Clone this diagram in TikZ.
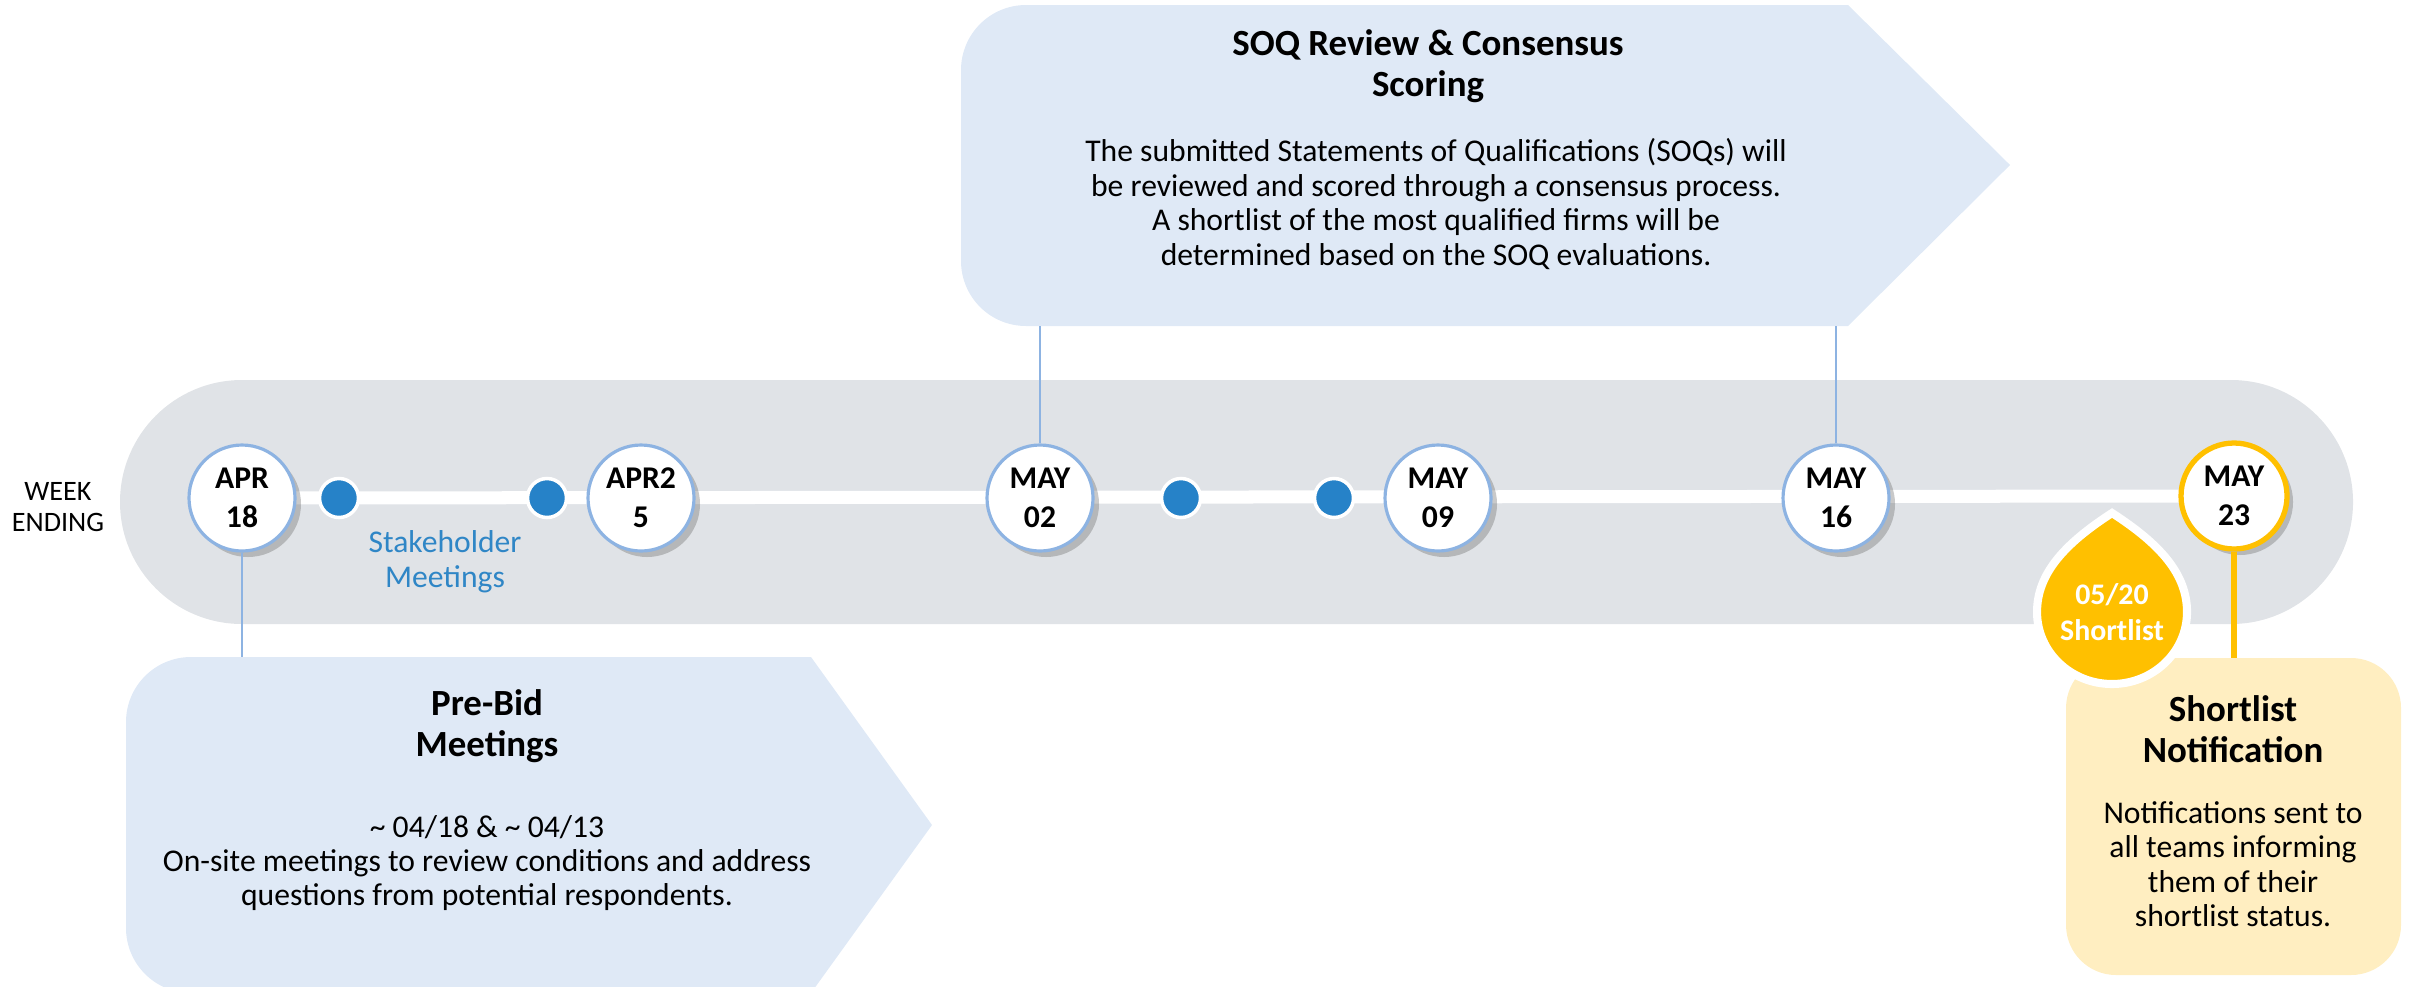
\documentclass[tikz,border=0pt]{standalone}
\usepackage{fontspec}
\setmainfont{Carlito}
\usetikzlibrary{shadows,backgrounds}
\definecolor{bandgray}{HTML}{E0E3E7}
\definecolor{boxblue}{HTML}{DFE9F6}
\definecolor{lineblue}{HTML}{8DB3E2}
\definecolor{dotblue}{HTML}{2682C8}
\definecolor{textblue}{HTML}{2F86C6}
\definecolor{gold}{HTML}{FFC000}
\definecolor{paleyellow}{HTML}{FFEEC1}
\tikzset{
  datenode/.style={circle, draw=lineblue, line width=0.9pt, fill=white,
    minimum size=10.6mm, inner sep=0pt, align=center,
    font=\bfseries\fontsize{9}{11}\selectfont,
    drop shadow={shadow xshift=0.6mm, shadow yshift=-0.6mm, opacity=0.35, fill=black!60}},
  dotnode/.style={circle, fill=dotblue, draw=white, line width=1pt,
    minimum size=3.9mm, inner sep=0pt},
  titletext/.style={align=center, font=\bfseries\fontsize{10.5}{11.8}\selectfont},
  bodytext/.style={align=center, font=\fontsize{9}{9.8}\selectfont},
  linkline/.style={draw=lineblue, line width=0.6pt},
}
\begin{document}
\begin{tikzpicture}[x=0.1mm, y=-0.1mm]
  \useasboundingbox (0,0) rectangle (2415,986);

  % callout boxes
  \fill[boxblue] (1848,5) -- (2010,165) -- (1848,326)
    [rounded corners=6.5mm] -- (961,326) -- (961,5) [sharp corners] -- (1848,5) -- cycle;
  \fill[boxblue] (811,657) -- (932,825) -- (811,993)
    [rounded corners=6.5mm] -- (126,993) -- (126,657) [sharp corners] -- (811,657) -- cycle;
  \fill[paleyellow, rounded corners=5mm] (2066,658) rectangle (2401,975);

  \node[titletext] (soqtitle) at (1428,66) {SOQ Review \& Consensus\\Scoring};
  \node[bodytext] (soqtext) at (1436,204) {The submitted Statements of Qualifications (SOQs) will\\
    be reviewed and scored through a consensus process.\\
    A shortlist of the most qualified firms will be\\
    determined based on the SOQ evaluations.};
  \node[titletext] (bidtitle) at (487,726) {Pre-Bid\\Meetings};
  \node[bodytext] (bidtext) at (487,863) {\textasciitilde{} 04/18 \& \textasciitilde{} 04/13\\
    On-site meetings to review conditions and address\\
    questions from potential respondents.};
  \node[titletext] (notetitle) at (2233,729) {Shortlist\\Notification};
  \node[bodytext] (notetext) at (2233,864) {Notifications sent to\\all teams informing\\
    them of their\\shortlist status.};

  \node[font=\fontsize{8}{8.6}\selectfont, align=center] (week) at (58,507) {WEEK\\ENDING};

  % dates
  \node[datenode] (apr18) at (242,498) {APR\\18};
  \node[datenode] (apr25) at (641,498) {APR2\\5};
  \node[datenode] (may02) at (1040,498) {MAY\\02};
  \node[datenode] (may09) at (1438,498) {MAY\\09};
  \node[datenode] (may16) at (1836,498) {MAY\\16};
  \node[datenode, draw=gold, line width=1.5pt] (may23) at (2234,496) {MAY\\23};

  \node[dotnode] (dota) at (339,498) {};
  \node[dotnode] (dotb) at (547,498) {};
  \node[dotnode] (dotc) at (1181,498) {};
  \node[dotnode] (dotd) at (1334,498) {};
  \node[text=textblue, font=\fontsize{9}{10}\selectfont, align=center] (stake) at (445,562)
    {Stakeholder\\Meetings};

  \begin{scope}[on background layer]
    \fill[bandgray, rounded corners=12.2mm] (120,380) rectangle (2353,624);
    \draw[white, line width=3.7pt] (apr18.center) -- (may23.center);
  \end{scope}

  % connectors
  \coordinate (soqa) at (1040,326);
  \coordinate (soqb) at (1836,326);
  \coordinate (bida) at (242,657);
  \coordinate (notea) at (2234,658);
  \draw[linkline] (soqa) -- (may02);
  \draw[linkline] (soqb) -- (may16);
  \draw[linkline] (apr18) -- (bida);
  \draw[gold, line width=1.7pt] (may23) -- (notea);

  % shortlist drop
  \draw[fill=gold, draw=white, line width=2.3pt] (2112,513)
    .. controls (2160,544) and (2187,574) .. (2187,612)
    .. controls (2187,652) and (2153,684) .. (2112,684)
    .. controls (2071,684) and (2037,652) .. (2037,612)
    .. controls (2037,574) and (2064,544) .. (2112,513) -- cycle;
  \node[text=white, font=\bfseries\fontsize{8.5}{10.2}\selectfont, align=center] (drop)
    at (2112,612) {05/20\\Shortlist};
\end{tikzpicture}
\end{document}
